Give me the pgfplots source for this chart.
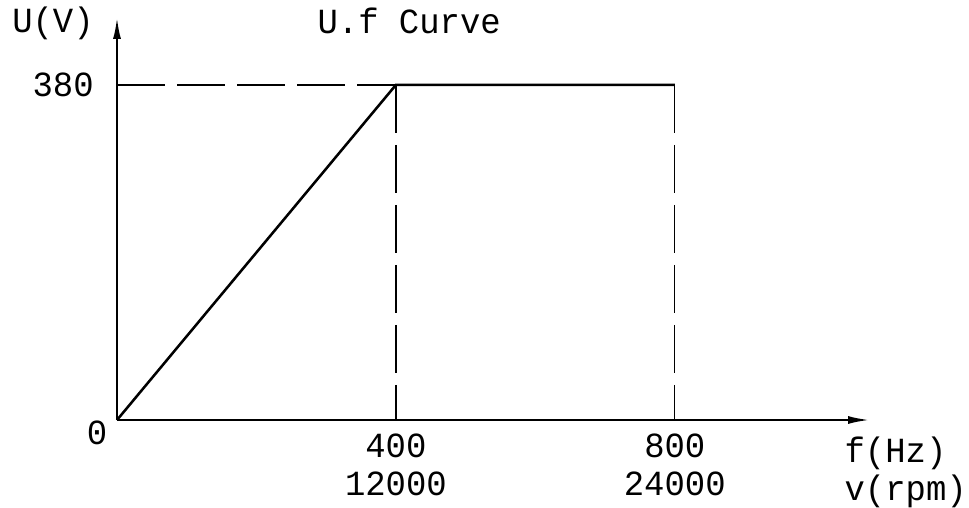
\documentclass[border=0pt]{standalone}
\usepackage{fontspec}
\setmainfont{Liberation Mono}[FakeStretch=0.96]
\usepackage{pgfplots}
\pgfplotsset{compat=1.18}
\usetikzlibrary{arrows.meta}
\newcommand\cadfont{\fontsize{26.5}{28.5}\selectfont}

\begin{document}
\begin{tikzpicture}
\useasboundingbox (-87.75pt,-65.25pt) rectangle (639pt,315pt);
\begin{axis}[
	scale only axis,
	width=564.75pt,
	height=302.25pt,
	xmin=0, xmax=1080,
	ymin=0, ymax=457,
	axis lines=left,
	axis line style={line width=1.8pt,-{Latex[length=16.5pt,width=6pt]}},
	clip=false,
	xtick={400,800},
	xticklabels={{400\\12000},{800\\24000}},
	ytick={380},
	yticklabels={380},
	major tick length=0pt,
	tick style={draw=none},
	xticklabel style={align=center,font=\cadfont,yshift=-7pt},
	yticklabel style={font=\cadfont,xshift=-14pt},
	xlabel={f(Hz)\\v(rpm)},
	xlabel style={at={(axis description cs:0.960,-0.129)},anchor=west,align=left,font=\cadfont},
	ylabel={U(V)},
	ylabel style={at={(axis description cs:-0.085,0.983)},anchor=center,rotate=-90,font=\cadfont},
	title={U.f Curve},
	title style={at={(axis description cs:0.388,0.971)},anchor=center,font=\cadfont},
	]
	% U/f characteristic
	\addplot[line width=1.9pt] coordinates {(0,0) (400,380) (800,380)};
	% guide lines
	\addplot[line width=1.5pt,dash pattern=on 36pt off 9pt] coordinates {(0,380) (400,380)};
	\addplot[line width=1pt,dash pattern=on 36pt off 9pt] coordinates {(400,380) (400,0)};
	\addplot[line width=1pt,dash pattern=on 36pt off 9pt] coordinates {(800,380) (800,0)};
	\node[font=\cadfont] at (axis cs:-28.7,-14.7) {0};
\end{axis}
\end{tikzpicture}
\end{document}
